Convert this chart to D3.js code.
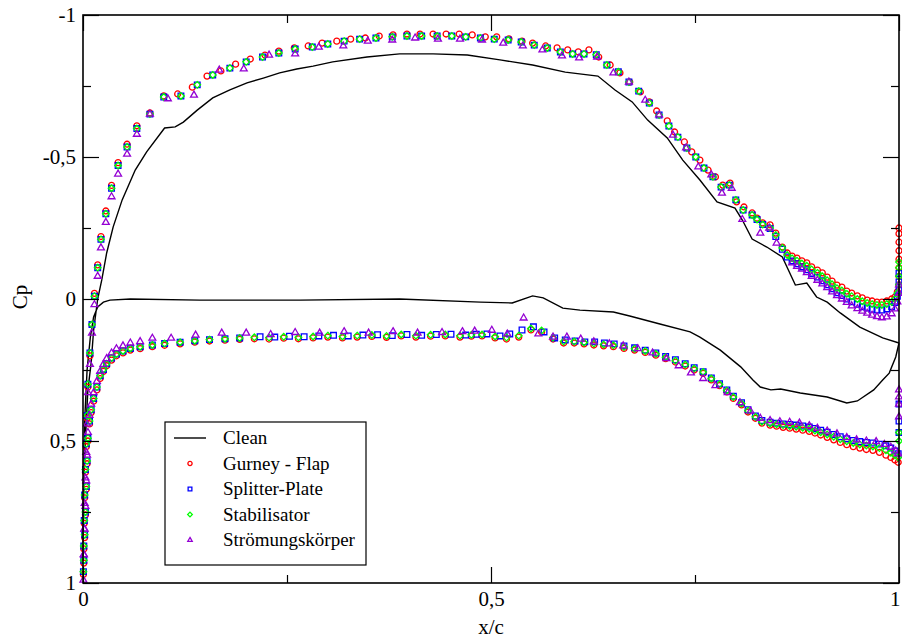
<!DOCTYPE html>
<html>
<head>
<meta charset="utf-8">
<script src="https://cdn.jsdelivr.net/npm/d3@7"></script>
<style>
  body { margin: 0; background: #fff; }
  text { font-family: "Liberation Serif", "Times New Roman", serif; }
</style>
</head>
<body>
<div id="chart"></div>
<script>
// tick values
var xMajor = [0, 0.5, 1];
var xMinor = [0.25, 0.75];
var yMajor = [-1, -0.5, 0, 0.5, 1];
var yMinor = [-0.75, -0.25, 0.25, 0.75];

// clean profile, closed loop: trailing edge -> suction side -> nose -> pressure side -> trailing edge
var clean = [
  [1.000,0.155],[0.980,0.137],[0.952,0.099],[0.928,0.049],[0.912,0.011],[0.899,-0.007],[0.887,-0.056],
  [0.873,-0.049],[0.857,-0.148],[0.838,-0.183],[0.820,-0.211],[0.808,-0.278],[0.799,-0.320],[0.777,-0.342],
  [0.756,-0.419],[0.735,-0.489],[0.716,-0.567],[0.692,-0.630],[0.673,-0.694],[0.652,-0.736],[0.631,-0.785],
  [0.591,-0.799],[0.551,-0.824],[0.511,-0.842],[0.471,-0.859],[0.429,-0.863],[0.388,-0.863],[0.348,-0.852],
  [0.306,-0.835],[0.282,-0.820],[0.262,-0.810],[0.241,-0.796],[0.221,-0.778],[0.201,-0.761],[0.180,-0.736],
  [0.159,-0.708],[0.140,-0.665],[0.123,-0.623],[0.113,-0.606],[0.100,-0.602],[0.078,-0.518],[0.064,-0.454],
  [0.048,-0.349],[0.037,-0.254],[0.029,-0.162],[0.023,-0.067],[0.018,0.000],[0.013,0.110],[0.010,0.225],
  [0.006,0.320],[0.004,0.430],[0.001,0.640],[0.000,0.920],
  [0.002,0.430],[0.005,0.250],[0.009,0.134],[0.013,0.063],[0.018,0.028],[0.025,0.011],[0.033,0.004],
  [0.058,0.000],[0.143,0.004],[0.266,0.004],[0.388,0.000],[0.487,0.011],[0.526,0.014],[0.551,-0.011],
  [0.564,-0.004],[0.588,0.032],[0.609,0.039],[0.650,0.046],[0.670,0.060],[0.707,0.088],[0.744,0.116],
  [0.756,0.134],[0.781,0.180],[0.806,0.239],[0.821,0.285],[0.830,0.310],[0.843,0.320],[0.855,0.317],
  [0.879,0.331],[0.912,0.345],[0.936,0.366],[0.949,0.359],[0.969,0.320],[0.980,0.285],[0.988,0.261],
  [0.996,0.204],[1.000,0.155]
];

var gurney = [
  // suction side
  [0.0005,0.97],[0.001,0.88],[0.0015,0.79],[0.002,0.70],[0.003,0.61],[0.004,0.52],[0.005,0.42],[0.006,0.31],
  [0.0085,0.20],[0.011,0.09],[0.014,-0.02],[0.018,-0.12],[0.022,-0.22],[0.028,-0.31],[0.035,-0.40],[0.043,-0.48],
  [0.054,-0.545],[0.066,-0.61],[0.082,-0.655],[0.099,-0.715],[0.116,-0.722],[0.134,-0.746],[0.152,-0.785],
  [0.169,-0.803],[0.187,-0.827],[0.205,-0.845],[0.223,-0.859],[0.240,-0.873],[0.259,-0.884],[0.276,-0.891],
  [0.293,-0.901],[0.311,-0.908],[0.328,-0.915],[0.346,-0.919],[0.363,-0.926],[0.380,-0.930],[0.397,-0.933],
  [0.413,-0.933],[0.429,-0.933],[0.445,-0.933],[0.461,-0.933],[0.477,-0.930],[0.493,-0.923],[0.507,-0.923],
  [0.522,-0.916],[0.538,-0.908],[0.551,-0.901],[0.567,-0.891],[0.581,-0.884],[0.594,-0.877],[0.607,-0.870],
  [0.620,-0.877],[0.632,-0.852],[0.646,-0.824],[0.658,-0.796],[0.670,-0.764],[0.683,-0.729],[0.694,-0.694],
  [0.703,-0.662],[0.716,-0.627],[0.725,-0.588],[0.737,-0.553],[0.746,-0.518],[0.756,-0.489],[0.766,-0.454],
  [0.775,-0.430],[0.784,-0.401],[0.793,-0.408],[0.801,-0.342],[0.810,-0.324],[0.820,-0.303],[0.826,-0.285],
  [0.833,-0.268],[0.842,-0.261],[0.849,-0.232],[0.857,-0.183],[0.863,-0.162],[0.869,-0.151],[0.875,-0.144],
  [0.881,-0.134],[0.887,-0.127],[0.893,-0.113],[0.900,-0.102],[0.906,-0.092],[0.912,-0.077],[0.918,-0.063],
  [0.924,-0.049],[0.930,-0.042],[0.936,-0.028],[0.942,-0.021],[0.949,-0.011],[0.955,-0.004],[0.961,0.004],
  [0.967,0.007],[0.973,0.011],[0.979,0.011],[0.985,0.007],[0.991,0.000],[0.995,-0.007],[0.998,-0.025],
  // trailing edge base
  [1,-0.05],[1,-0.08],[1,-0.11],[1,-0.14],[1,-0.17],[1,-0.20],[1,-0.23],[1,-0.25],
  // pressure side
  [0.001,0.93],[0.002,0.84],[0.003,0.76],[0.004,0.67],[0.005,0.58],[0.006,0.50],[0.008,0.44],[0.010,0.40],
  [0.013,0.36],[0.017,0.32],[0.021,0.28],[0.025,0.255],[0.029,0.235],[0.035,0.215],[0.041,0.20],[0.049,0.19],
  [0.058,0.18],[0.070,0.175],[0.085,0.168],[0.100,0.163],[0.119,0.158],[0.137,0.152],[0.155,0.148],
  [0.174,0.145],[0.192,0.142],[0.210,0.140],[0.228,0.141],[0.246,0.138],[0.264,0.140],[0.282,0.137],
  [0.300,0.134],[0.318,0.137],[0.336,0.134],[0.354,0.132],[0.372,0.135],[0.390,0.130],[0.408,0.134],
  [0.426,0.131],[0.444,0.130],[0.462,0.134],[0.476,0.131],[0.489,0.130],[0.505,0.137],[0.519,0.141],
  [0.534,0.134],[0.549,0.109],[0.562,0.116],[0.576,0.141],[0.589,0.155],[0.602,0.155],[0.614,0.158],
  [0.626,0.162],[0.638,0.165],[0.650,0.168],[0.663,0.174],[0.676,0.180],[0.689,0.188],[0.702,0.198],
  [0.714,0.210],[0.726,0.222],[0.738,0.236],[0.749,0.250],[0.760,0.262],[0.770,0.285],[0.780,0.305],
  [0.789,0.327],[0.797,0.350],[0.807,0.373],[0.815,0.398],[0.824,0.420],[0.832,0.437],[0.842,0.444],
  [0.850,0.448],[0.858,0.452],[0.866,0.455],[0.874,0.458],[0.882,0.462],[0.890,0.466],[0.897,0.472],
  [0.904,0.479],[0.912,0.487],[0.920,0.496],[0.928,0.505],[0.936,0.513],[0.944,0.520],[0.952,0.525],
  [0.960,0.530],[0.968,0.533],[0.976,0.540],[0.984,0.550],[0.990,0.558],[0.995,0.567],[0.999,0.575]
];

var splitter = [
  [0.0005,0.96],[0.001,0.87],[0.0015,0.78],[0.002,0.69],[0.003,0.60],[0.004,0.51],[0.005,0.41],[0.006,0.30],
  [0.0085,0.19],[0.011,0.09],[0.014,-0.01],[0.018,-0.11],[0.022,-0.21],[0.028,-0.30],[0.035,-0.39],[0.043,-0.47],
  [0.054,-0.535],[0.066,-0.60],[0.082,-0.651],[0.099,-0.711],[0.120,-0.715],[0.140,-0.754],[0.159,-0.789],
  [0.180,-0.813],[0.200,-0.835],[0.220,-0.852],[0.240,-0.866],[0.260,-0.880],[0.281,-0.887],[0.300,-0.898],
  [0.320,-0.908],[0.339,-0.915],[0.359,-0.919],[0.379,-0.923],[0.397,-0.926],[0.415,-0.926],[0.434,-0.926],
  [0.452,-0.926],[0.469,-0.923],[0.487,-0.919],[0.504,-0.915],[0.521,-0.912],[0.537,-0.905],[0.553,-0.894],
  [0.569,-0.884],[0.585,-0.870],[0.600,-0.863],[0.614,-0.863],[0.629,-0.860],[0.642,-0.824],[0.656,-0.800],
  [0.669,-0.764],[0.681,-0.732],[0.694,-0.690],[0.706,-0.648],[0.718,-0.609],[0.729,-0.570],[0.740,-0.532],
  [0.751,-0.500],[0.761,-0.461],[0.772,-0.430],[0.782,-0.394],[0.792,-0.401],[0.800,-0.349],[0.809,-0.313],
  [0.820,-0.296],[0.826,-0.280],[0.833,-0.262],[0.842,-0.248],[0.849,-0.220],[0.857,-0.175],[0.863,-0.148],
  [0.869,-0.134],[0.875,-0.124],[0.881,-0.113],[0.887,-0.103],[0.893,-0.090],[0.900,-0.077],[0.906,-0.064],
  [0.912,-0.050],[0.918,-0.036],[0.924,-0.022],[0.930,-0.012],[0.936,0.000],[0.942,0.010],[0.949,0.019],
  [0.955,0.027],[0.961,0.032],[0.967,0.036],[0.973,0.039],[0.979,0.039],[0.985,0.035],[0.991,0.027],
  [0.995,0.012],[0.998,-0.010],
  [1,-0.03],[1,-0.06],[1,-0.09],
  [1,0.37],[1,0.43],[1,0.47],
  [0.001,0.92],[0.002,0.83],[0.003,0.75],[0.004,0.66],[0.005,0.57],[0.006,0.49],[0.008,0.43],[0.010,0.39],
  [0.013,0.35],[0.017,0.31],[0.021,0.27],[0.025,0.248],[0.029,0.228],[0.035,0.208],[0.041,0.194],[0.049,0.183],
  [0.058,0.174],[0.070,0.168],[0.085,0.162],[0.100,0.157],[0.119,0.152],[0.137,0.147],[0.155,0.143],
  [0.174,0.140],[0.192,0.137],[0.217,0.133],[0.235,0.134],[0.253,0.131],[0.271,0.133],[0.289,0.130],
  [0.307,0.128],[0.325,0.130],[0.343,0.127],[0.361,0.126],[0.379,0.129],[0.397,0.125],[0.415,0.128],
  [0.433,0.125],[0.451,0.124],[0.469,0.127],[0.482,0.124],[0.495,0.123],[0.511,0.130],[0.523,0.123],
  [0.538,0.109],[0.552,0.098],[0.565,0.116],[0.578,0.137],[0.591,0.144],[0.603,0.148],[0.615,0.151],
  [0.627,0.151],[0.639,0.155],[0.651,0.158],[0.663,0.165],[0.676,0.172],[0.689,0.180],[0.702,0.190],
  [0.714,0.202],[0.726,0.214],[0.738,0.228],[0.749,0.242],[0.760,0.256],[0.770,0.278],[0.780,0.298],
  [0.789,0.320],[0.797,0.342],[0.807,0.365],[0.815,0.390],[0.824,0.412],[0.832,0.428],[0.842,0.434],
  [0.850,0.437],[0.858,0.440],[0.866,0.442],[0.874,0.444],[0.882,0.447],[0.890,0.451],[0.897,0.456],
  [0.904,0.462],[0.912,0.469],[0.920,0.477],[0.928,0.485],[0.936,0.492],[0.944,0.498],[0.952,0.502],
  [0.960,0.505],[0.968,0.507],[0.976,0.511],[0.984,0.517],[0.990,0.525],[0.995,0.535],[0.999,0.545]
];

var stabilisator = [
  [0.0005,0.96],[0.001,0.87],[0.0015,0.78],[0.002,0.69],[0.003,0.60],[0.004,0.51],[0.005,0.41],[0.006,0.30],
  [0.0085,0.19],[0.011,0.09],[0.014,-0.01],[0.018,-0.11],[0.022,-0.21],[0.028,-0.30],[0.035,-0.39],[0.043,-0.47],
  [0.054,-0.535],[0.066,-0.60],[0.082,-0.651],[0.099,-0.711],[0.120,-0.715],[0.140,-0.754],[0.159,-0.789],
  [0.180,-0.813],[0.200,-0.835],[0.220,-0.852],[0.240,-0.866],[0.260,-0.880],[0.281,-0.887],[0.300,-0.898],
  [0.320,-0.908],[0.339,-0.915],[0.359,-0.919],[0.379,-0.923],[0.397,-0.926],[0.415,-0.926],[0.434,-0.926],
  [0.452,-0.926],[0.469,-0.923],[0.487,-0.919],[0.504,-0.915],[0.521,-0.912],[0.537,-0.905],[0.553,-0.894],
  [0.569,-0.884],[0.585,-0.870],[0.600,-0.863],[0.614,-0.863],[0.629,-0.860],[0.642,-0.824],[0.656,-0.800],
  [0.669,-0.764],[0.681,-0.732],[0.694,-0.690],[0.706,-0.648],[0.718,-0.609],[0.729,-0.570],[0.740,-0.532],
  [0.751,-0.500],[0.761,-0.461],[0.772,-0.430],[0.782,-0.394],[0.792,-0.401],[0.800,-0.349],[0.809,-0.313],
  [0.820,-0.296],[0.826,-0.280],[0.833,-0.262],[0.842,-0.250],[0.849,-0.225],[0.857,-0.180],[0.863,-0.155],
  [0.869,-0.143],[0.875,-0.135],[0.881,-0.125],[0.887,-0.117],[0.893,-0.104],[0.900,-0.092],[0.906,-0.080],
  [0.912,-0.066],[0.918,-0.052],[0.924,-0.038],[0.930,-0.030],[0.936,-0.018],[0.942,-0.010],[0.949,0.000],
  [0.955,0.008],[0.961,0.014],[0.967,0.018],[0.973,0.021],[0.979,0.021],[0.985,0.018],[0.991,0.011],
  [0.995,0.000],[0.998,-0.020],
  [1,-0.05],[1,-0.08],[1,-0.11],[1,-0.13],
  [1,0.47],[1,0.50],
  [0.001,0.92],[0.002,0.83],[0.003,0.75],[0.004,0.66],[0.005,0.57],[0.006,0.49],[0.008,0.43],[0.010,0.39],
  [0.013,0.35],[0.017,0.31],[0.021,0.27],[0.025,0.248],[0.029,0.228],[0.035,0.208],[0.041,0.194],[0.049,0.183],
  [0.058,0.174],[0.070,0.168],[0.085,0.162],[0.100,0.157],[0.119,0.152],[0.137,0.147],[0.155,0.143],
  [0.174,0.140],[0.192,0.137],[0.210,0.135],[0.228,0.136],[0.246,0.133],[0.264,0.135],[0.282,0.132],
  [0.300,0.129],[0.318,0.132],[0.336,0.129],[0.354,0.127],[0.372,0.130],[0.390,0.125],[0.408,0.129],
  [0.426,0.126],[0.444,0.125],[0.462,0.129],[0.476,0.126],[0.489,0.125],[0.505,0.132],[0.519,0.136],
  [0.534,0.129],[0.549,0.104],[0.562,0.111],[0.576,0.136],[0.589,0.150],[0.602,0.150],[0.614,0.153],
  [0.626,0.157],[0.638,0.160],[0.650,0.163],[0.663,0.169],[0.676,0.175],[0.689,0.183],[0.702,0.193],
  [0.714,0.205],[0.726,0.217],[0.738,0.231],[0.749,0.245],[0.760,0.257],[0.770,0.280],[0.780,0.300],
  [0.789,0.322],[0.797,0.345],[0.807,0.368],[0.815,0.393],[0.824,0.415],[0.832,0.432],[0.842,0.438],
  [0.850,0.441],[0.858,0.444],[0.866,0.447],[0.874,0.450],[0.882,0.453],[0.890,0.457],[0.897,0.463],
  [0.904,0.469],[0.912,0.477],[0.920,0.485],[0.928,0.494],[0.936,0.501],[0.944,0.507],[0.952,0.512],
  [0.960,0.516],[0.968,0.519],[0.976,0.525],[0.984,0.533],[0.990,0.541],[0.995,0.550],[0.999,0.558]
];

var stroemung = [
  [0.0005,0.99],[0.001,0.90],[0.0015,0.81],[0.002,0.72],[0.003,0.63],[0.004,0.54],[0.005,0.44],[0.006,0.33],
  [0.0085,0.23],[0.011,0.12],[0.014,0.02],[0.018,-0.08],[0.022,-0.18],[0.028,-0.27],[0.035,-0.36],[0.043,-0.44],
  [0.054,-0.51],[0.066,-0.58],[0.082,-0.651],[0.104,-0.705],[0.136,-0.718],[0.167,-0.806],[0.197,-0.810],
  [0.228,-0.859],[0.260,-0.863],[0.289,-0.887],[0.319,-0.891],[0.349,-0.908],[0.379,-0.912],[0.407,-0.919],
  [0.435,-0.915],[0.462,-0.915],[0.489,-0.912],[0.515,-0.901],[0.539,-0.891],[0.563,-0.877],[0.587,-0.856],
  [0.608,-0.849],[0.630,-0.852],[0.650,-0.796],[0.669,-0.764],[0.689,-0.700],[0.706,-0.648],[0.723,-0.577],
  [0.739,-0.532],[0.754,-0.465],[0.770,-0.437],[0.783,-0.373],[0.795,-0.390],[0.808,-0.280],[0.830,-0.232],
  [0.841,-0.250],[0.850,-0.197],[0.869,-0.127],[0.875,-0.115],[0.881,-0.105],[0.887,-0.093],[0.893,-0.080],
  [0.900,-0.066],[0.906,-0.053],[0.912,-0.040],[0.918,-0.025],[0.924,-0.012],[0.930,0.000],[0.936,0.012],
  [0.942,0.024],[0.949,0.034],[0.955,0.043],[0.961,0.050],[0.967,0.057],[0.973,0.062],[0.979,0.066],
  [0.985,0.063],[0.991,0.052],[0.995,0.035],[0.998,0.010],
  [1,-0.02],[1,-0.05],
  [1,0.32],[1,0.345],[1,0.37],[1,0.415],
  [0.001,0.90],[0.002,0.81],[0.003,0.73],[0.004,0.64],[0.005,0.55],[0.006,0.47],[0.008,0.41],[0.010,0.37],
  [0.013,0.33],[0.017,0.29],[0.021,0.255],[0.025,0.23],[0.029,0.21],[0.035,0.19],[0.041,0.175],[0.049,0.165],
  [0.058,0.155],[0.070,0.15],[0.085,0.138],[0.108,0.138],[0.138,0.127],[0.170,0.120],[0.200,0.120],
  [0.230,0.125],[0.260,0.118],[0.290,0.120],[0.320,0.115],[0.350,0.120],[0.380,0.115],[0.410,0.120],
  [0.440,0.118],[0.465,0.115],[0.480,0.113],[0.501,0.110],[0.520,0.123],[0.540,0.067],[0.558,0.123],
  [0.576,0.134],[0.593,0.134],[0.610,0.141],[0.626,0.151],[0.645,0.158],[0.662,0.165],[0.680,0.175],
  [0.698,0.190],[0.715,0.210],[0.730,0.235],[0.745,0.260],[0.760,0.280],[0.775,0.305],[0.790,0.330],
  [0.805,0.365],[0.818,0.395],[0.830,0.420],[0.842,0.428],[0.854,0.432],[0.866,0.434],[0.878,0.437],
  [0.890,0.446],[0.900,0.455],[0.912,0.465],[0.924,0.475],[0.936,0.488],[0.948,0.496],[0.960,0.500],
  [0.972,0.502],[0.982,0.512],[0.990,0.522],[0.996,0.535],[0.999,0.545]
];

var seriesNames = ["Clean", "Gurney - Flap", "Splitter-Plate", "Stabilisator", "Strömungskörper"];

var margin = {top: 15, right: 3, bottom: 57, left: 83};
var width = 902 - margin.left - margin.right;
var height = 640 - margin.top - margin.bottom;

var svg = d3.select("#chart").append("svg")
    .attr("width", 902)
    .attr("height", 640);

var g = svg.append("g")
    .attr("transform", "translate(" + margin.left + "," + margin.top + ")");

var x = d3.scaleLinear().domain([0, 1]).range([0, width]);
var y = d3.scaleLinear().domain([-1, 1]).range([0, height]);

var fmt = function (d) { return String(d).replace(".", ","); };

// clean line
var line = d3.line()
    .x(function (d) { return x(d[0]); })
    .y(function (d) { return y(d[1]); });

g.append("path")
    .datum(clean)
    .attr("d", line)
    .attr("fill", "none")
    .attr("stroke", "#000")
    .attr("stroke-width", 1.4);

// markers
var symCircle = d3.symbol().type(d3.symbolCircle).size(28);
var symSquare = d3.symbol().type(d3.symbolSquare).size(32);
var symDiamond = d3.symbol().type(d3.symbolDiamond2).size(28);
var symTriangle = d3.symbol().type(d3.symbolTriangle2).size(34);

var markerSeries = [
  {data: gurney, sym: symCircle, color: "#ff0000"},
  {data: splitter, sym: symSquare, color: "#0000ff"},
  {data: stabilisator, sym: symDiamond, color: "#00ff00"},
  {data: stroemung, sym: symTriangle, color: "#9400d3"}
];

markerSeries.forEach(function (s) {
  g.append("g").selectAll("path")
    .data(s.data)
    .enter()
    .append("path")
    .attr("d", s.sym)
    .attr("transform", function (d) { return "translate(" + x(d[0]) + "," + y(d[1]) + ")"; })
    .attr("fill", "none")
    .attr("stroke", s.color)
    .attr("stroke-width", 1.3);
});

// axes, ticks pointing inward
function styleAxis(sel) {
  sel.select(".domain").remove();
  sel.selectAll("line").attr("stroke", "#000").attr("stroke-width", 1.2);
  sel.selectAll("text").attr("fill", "#000").style("font-size", "21px")
     .style("font-family", "'Liberation Serif', 'Times New Roman', serif");
}

var xAxisG = g.append("g").attr("transform", "translate(0," + height + ")")
  .call(d3.axisBottom(x).tickValues(xMajor).tickFormat(fmt).tickSize(-16).tickPadding(8))
  .call(styleAxis);
// last label sits at the window edge
xAxisG.selectAll("text").filter(function (d) { return d === 1; })
  .attr("text-anchor", "end").attr("dx", "1");

g.append("g").attr("transform", "translate(0," + height + ")")
  .call(d3.axisBottom(x).tickValues(xMinor).tickFormat("").tickSize(-8))
  .call(styleAxis);
g.append("g")
  .call(d3.axisTop(x).tickValues(xMajor).tickFormat("").tickSize(-16))
  .call(styleAxis);
g.append("g")
  .call(d3.axisTop(x).tickValues(xMinor).tickFormat("").tickSize(-8))
  .call(styleAxis);

g.append("g")
  .call(d3.axisLeft(y).tickValues(yMajor).tickFormat(fmt).tickSize(-16).tickPadding(7))
  .call(styleAxis);
g.append("g")
  .call(d3.axisLeft(y).tickValues(yMinor).tickFormat("").tickSize(-8))
  .call(styleAxis);
g.append("g").attr("transform", "translate(" + width + ",0)")
  .call(d3.axisRight(y).tickValues(yMajor).tickFormat("").tickSize(-16))
  .call(styleAxis);
g.append("g").attr("transform", "translate(" + width + ",0)")
  .call(d3.axisRight(y).tickValues(yMinor).tickFormat("").tickSize(-8))
  .call(styleAxis);

// frame
g.append("rect")
  .attr("width", width)
  .attr("height", height)
  .attr("fill", "none")
  .attr("stroke", "#000")
  .attr("stroke-width", 1.6);

// axis titles
svg.append("text")
  .attr("x", margin.left + width / 2)
  .attr("y", 634)
  .attr("text-anchor", "middle")
  .style("font-size", "21px")
  .text("x/c");

svg.append("text")
  .attr("transform", "translate(27,297) rotate(-90)")
  .attr("text-anchor", "middle")
  .style("font-size", "21px")
  .text("Cp");

// legend
var legend = svg.append("g").attr("transform", "translate(165,422)");
legend.append("rect")
  .attr("width", 201)
  .attr("height", 143)
  .attr("fill", "#fff")
  .attr("stroke", "#000")
  .attr("stroke-width", 1.2);

var legendTypes = [null, d3.symbolCircle, d3.symbolSquare, d3.symbolDiamond2, d3.symbolTriangle2];
var legendColors = ["#000", "#ff0000", "#0000ff", "#00ff00", "#9400d3"];

seriesNames.forEach(function (name, i) {
  var ly = 16 + i * 25.5;
  if (i === 0) {
    legend.append("line")
      .attr("x1", 9).attr("x2", 41)
      .attr("y1", ly).attr("y2", ly)
      .attr("stroke", "#000").attr("stroke-width", 1.4);
  } else {
    legend.append("path")
      .attr("d", d3.symbol().type(legendTypes[i]).size(14))
      .attr("transform", "translate(25," + ly + ")")
      .attr("fill", "none")
      .attr("stroke", legendColors[i])
      .attr("stroke-width", 1.3);
  }
  legend.append("text")
    .attr("x", 58)
    .attr("y", ly + 6)
    .style("font-size", "19px")
    .text(name);
});
</script>
</body>
</html>
